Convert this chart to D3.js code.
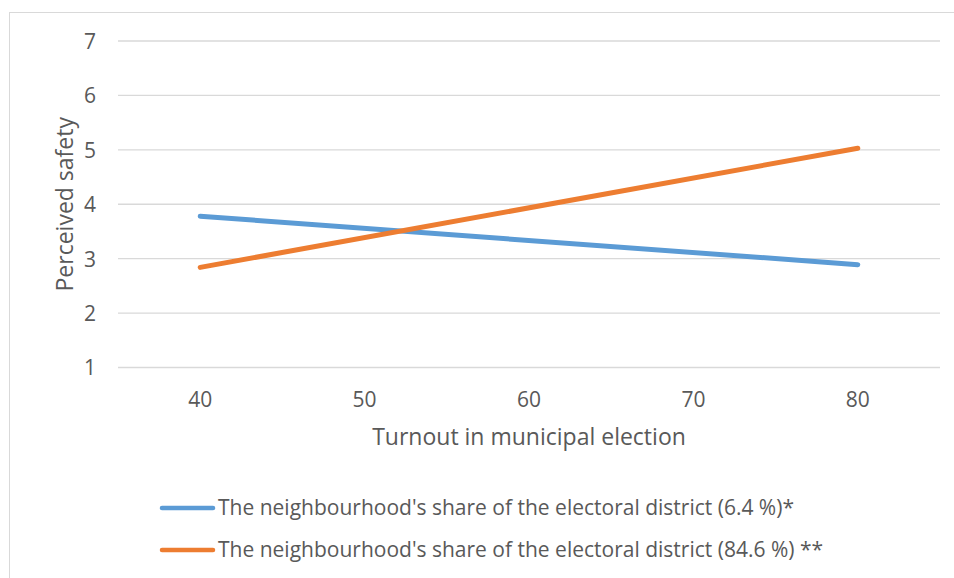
<!DOCTYPE html>
<html>
<head>
<meta charset="utf-8">
<script src="https://cdn.jsdelivr.net/npm/d3@7"></script>
<style>
  html, body { margin: 0; padding: 0; background: #fff; }
  svg { display: block; }
  text { font-family: "Open Sans", "Noto Sans", sans-serif; fill: #595959; }
</style>
</head>
<body>
<svg id="chart" width="954" height="578"></svg>
<script>
// Turnout categories on the horizontal axis
const categories = ["40", "50", "60", "70", "80"];
// Predicted perceived safety at the lowest and highest turnout
const turnoutPoints = ["40", "80"];
const lowShareValues = [3.78, 2.89];
const highShareValues = [2.84, 5.03];
const yTicks = [1, 2, 3, 4, 5, 6, 7];
const seriesNames = [
  "The neighbourhood's share of the electoral district (6.4 %)*",
  "The neighbourhood's share of the electoral district (84.6 %) **"
];
const seriesColors = ["#5b9bd5", "#ed7d31"];

const svg = d3.select("#chart");

// chart frame
svg.append("rect")
  .attr("x", 9.5).attr("y", 12.5)
  .attr("width", 960).attr("height", 580)
  .attr("fill", "none").attr("stroke", "#d9d9d9").attr("stroke-width", 1);

const plot = { left: 118, right: 940, top: 41, bottom: 367.5 };

const x = d3.scaleBand().domain(categories).range([plot.left, plot.right]);
const y = d3.scaleLinear().domain([1, 7]).range([plot.bottom, plot.top]);

// horizontal gridlines
svg.append("g")
  .selectAll("line")
  .data(yTicks)
  .join("line")
  .attr("x1", plot.left).attr("x2", plot.right)
  .attr("y1", d => y(d)).attr("y2", d => y(d))
  .attr("stroke", "#d9d9d9").attr("stroke-width", 1.3);

// y axis labels
const yAxis = d3.axisLeft(y).tickValues(yTicks).tickSize(0).tickPadding(0).tickFormat(d3.format("d"));
svg.append("g")
  .attr("transform", `translate(${plot.left - 22},0)`)
  .call(yAxis)
  .call(g => g.select(".domain").remove())
  .call(g => g.selectAll("text")
    .attr("font-size", 21).attr("fill", "#595959")
    .attr("font-family", "'Open Sans', sans-serif")
    .attr("dy", "0.35em"));

// x axis labels
const xAxis = d3.axisBottom(x).tickSize(0).tickPadding(0);
svg.append("g")
  .attr("transform", `translate(0,${plot.bottom + 32})`)
  .call(xAxis)
  .call(g => g.select(".domain").remove())
  .call(g => g.selectAll("text")
    .attr("font-size", 21).attr("fill", "#595959")
    .attr("font-family", "'Open Sans', sans-serif")
    .attr("y", 0)
    .attr("dy", "0.35em"));

// axis titles
svg.append("text")
  .attr("x", (plot.left + plot.right) / 2).attr("y", 445)
  .attr("text-anchor", "middle").attr("font-size", 23)
  .text("Turnout in municipal election");

svg.append("text")
  .attr("transform", `translate(73,${(plot.top + plot.bottom) / 2}) rotate(-90)`)
  .attr("text-anchor", "middle").attr("font-size", 23)
  .text("Perceived safety");

// series lines
const line = d3.line()
  .x(d => x(d[0]) + x.bandwidth() / 2)
  .y(d => y(d[1]));

[lowShareValues, highShareValues].forEach((vals, i) => {
  svg.append("path")
    .datum(d3.zip(turnoutPoints, vals))
    .attr("d", line)
    .attr("fill", "none")
    .attr("stroke", seriesColors[i])
    .attr("stroke-width", 5)
    .attr("stroke-linecap", "round");
});

// legend
const legend = svg.append("g");
seriesNames.forEach((name, i) => {
  const ly = 508 + i * 42;
  legend.append("line")
    .attr("x1", 162).attr("x2", 213)
    .attr("y1", ly).attr("y2", ly)
    .attr("stroke", seriesColors[i]).attr("stroke-width", 4.5)
    .attr("stroke-linecap", "round");
  legend.append("text")
    .attr("x", 218).attr("y", ly)
    .attr("dy", "0.35em").attr("font-size", 21)
    .text(name);
});
</script>
</body>
</html>
